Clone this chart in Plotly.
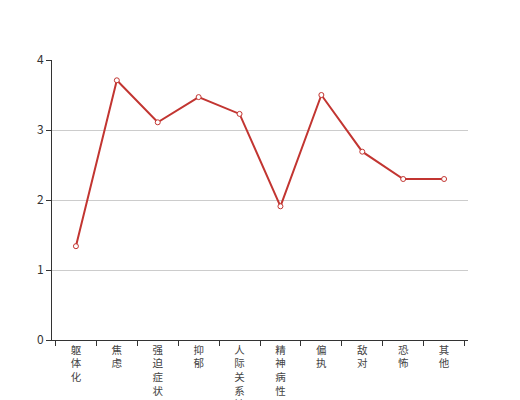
import plotly.graph_objects as go

categories = ["躯体化", "焦虑", "强迫症状", "抑郁", "人际关系敏感",
              "精神病性", "偏执", "敌对", "恐怖", "其他"]
values = [1.34, 3.71, 3.11, 3.47, 3.23, 1.91, 3.50, 2.69, 2.30, 2.30]
y_ticks = [0, 1, 2, 3, 4]

# vertical labels: one character per line
labels = ["<br>".join(list(c)) for c in categories]

fig = go.Figure(go.Scatter(
    x=labels, y=values, mode="lines+markers",
    line=dict(color="#c23531", width=2),
    marker=dict(symbol="circle", size=5, color="white",
                line=dict(color="#c23531", width=1)),
    showlegend=False,
))

# page body has an 8px margin, so the figure is 8px smaller each way
fig.update_layout(
    width=512, height=392,
    margin=dict(l=44, r=52, t=52, b=60),
    paper_bgcolor="white", plot_bgcolor="white",
    font=dict(family="Noto Sans CJK SC, sans-serif", size=12, color="#333"),
)
fig.update_xaxes(
    type="category", tickson="boundaries", ticks="outside", ticklen=5,
    tickcolor="#333", showline=True, linecolor="#333", linewidth=1,
    showgrid=False, tickangle=0, tickfont=dict(size=10.5, color="#444"),
    automargin=False,
)
fig.update_yaxes(
    range=[0, 4], tickvals=y_ticks, ticks="outside", ticklen=5,
    tickcolor="#333", showline=True, linecolor="#333", linewidth=1,
    showgrid=True, gridcolor="#ccc", zeroline=False,
    tickfont=dict(size=12, color="#333"), automargin=False,
)

fig.write_html("out.html")
